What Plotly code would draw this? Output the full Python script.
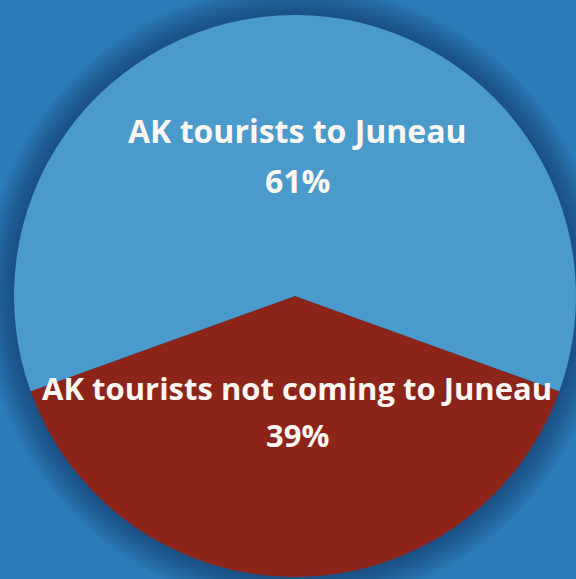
import plotly.graph_objects as go

categories = ["AK tourists not coming to Juneau", "AK tourists to Juneau"]
values = [39, 61]
colors = ["#8c2419", "#4a9bcb"]

W, H = 576, 579
BG = "#2a7bb8"

fig = go.Figure()
fig.add_trace(go.Pie(
    labels=categories,
    values=values,
    sort=False,
    direction="clockwise",
    rotation=180 - 360 * values[0] / sum(values) / 2,
    marker=dict(colors=colors, line=dict(width=0)),
    textinfo="none",
    hoverinfo="skip",
    showlegend=False,
    domain=dict(x=[14 / W, 1.0], y=[0.0, 1 - 13 / H]),
))

# soft shadow around the pie
shapes = []
cx, cy, r = 295, 296, 281
for i in range(1, 16):
    rr = r + i * 2
    shapes.append(dict(
        type="circle", layer="below",
        xref="paper", yref="paper",
        xsizemode="pixel", ysizemode="pixel",
        xanchor=cx / W, yanchor=1 - cy / H,
        x0=-rr, x1=rr, y0=-rr, y1=rr,
        fillcolor="#0d3557", opacity=0.045, line=dict(width=0),
    ))

font = dict(family="Open Sans", size=31, color="#fbf7f2", weight="bold")
pcts = [f"{v}%" for v in values]
anns = [
    dict(text=categories[1], x=297 / W, y=1 - 130 / H, font=dict(font, size=32)),
    dict(text=pcts[1], x=297 / W, y=1 - 180 / H, font=dict(font, size=32)),
    dict(text=categories[0], x=297 / W, y=1 - 388 / H, font=font),
    dict(text=pcts[0], x=297 / W, y=1 - 435 / H, font=font),
]
for a in anns:
    a.update(xref="paper", yref="paper", showarrow=False,
             xanchor="center", yanchor="middle")

fig.update_layout(
    width=W, height=H,
    margin=dict(l=0, r=0, t=0, b=0),
    paper_bgcolor=BG, plot_bgcolor=BG,
    shapes=shapes, annotations=anns,
)
fig.write_html(
    "out.html",
    config={"displayModeBar": False},
    post_script="document.body.style.margin='0';document.body.style.background='" + BG + "';",
)
